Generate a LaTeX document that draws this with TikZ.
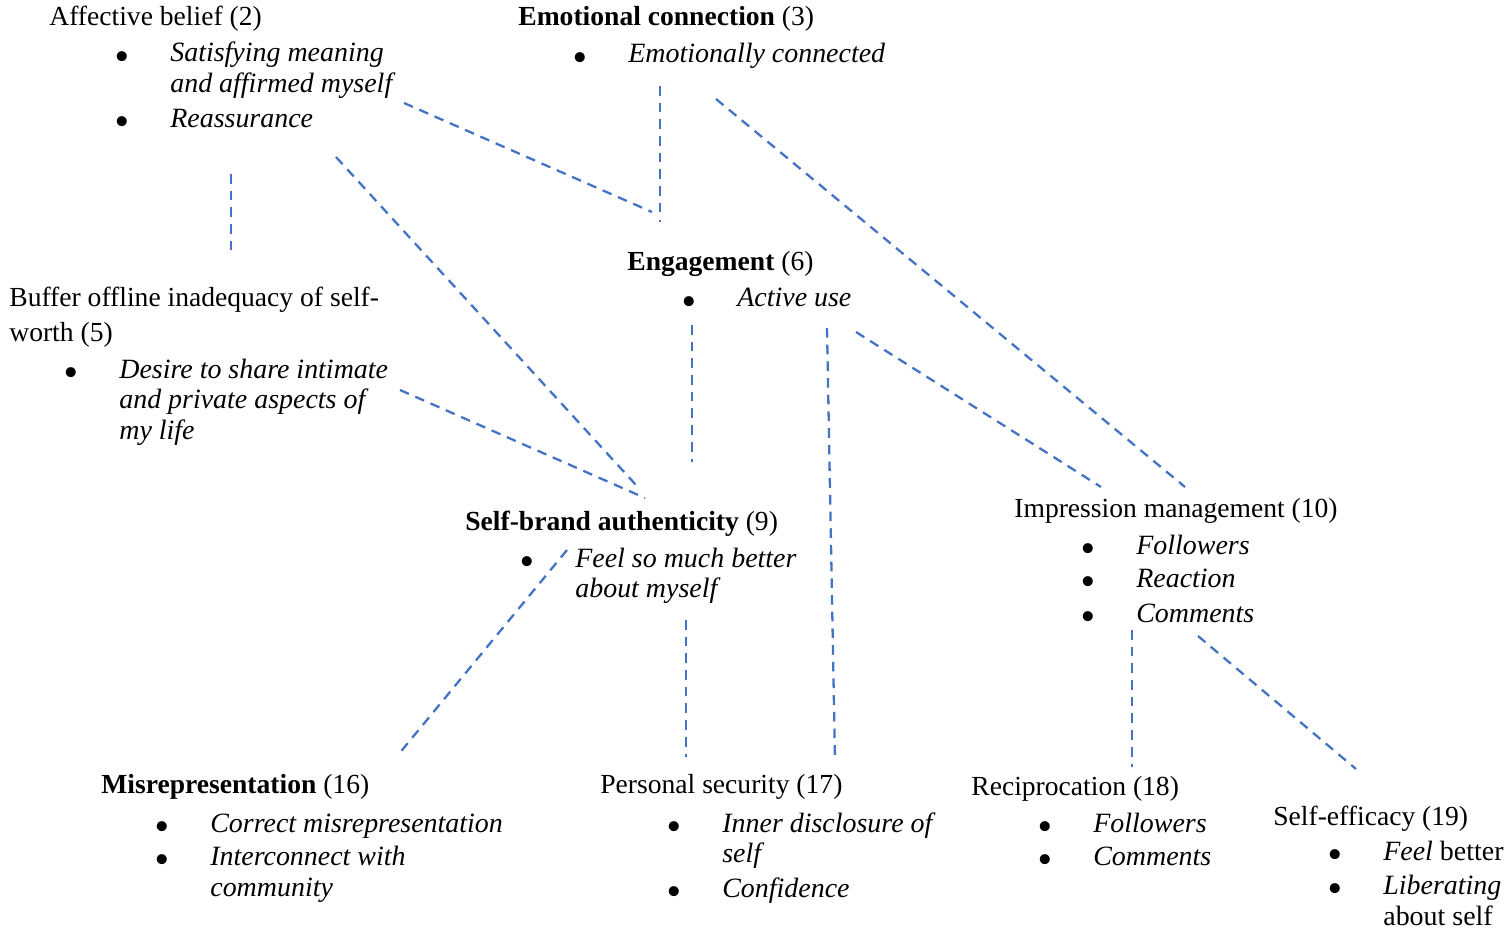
\documentclass[tikz,border=0pt]{standalone}
\usepackage{fontspec}
\setmainfont{Liberation Serif}
\usetikzlibrary{positioning}
\definecolor{linkblue}{RGB}{68,114,196}
\newcommand{\bul}{\llap{\raisebox{-4.6pt}[0pt][0pt]{\scalebox{1.5}{\textbullet}}\hspace{0.83cm}}}

\begin{document}
\begin{tikzpicture}[
      x=0.02cm, y=-0.02cm,
      theme/.style={anchor=base west, inner sep=0pt,
                    font=\fontsize{15.7}{17.64}\selectfont},
      items/.style={anchor=base west, inner sep=0pt,
                    font=\fontsize{15.9}{17.64}\selectfont\itshape},
      link/.style={draw=linkblue, line width=1.3pt, dash pattern=on 5.5pt off 4pt}
    ]
      \useasboundingbox (0,0) rectangle (1511,932);

      % Top row
      \node[theme] (aff) at (49,26) {Affective belief (2)};
      \node[items] (aff-l) at (170,62) {\begin{tabular}[t]{@{}l@{}}
          \bul Satisfying meaning\\ and affirmed myself\\[2pt] \bul Reassurance\end{tabular}};
      \node[theme] (emo) at (518,26) {\textbf{Emotional connection} (3)};
      \node[items] (emo-l) at (628,63) {\bul Emotionally connected};

      % Middle rows
      \node[theme] (buf) at (9,307) {\begin{tabular}[t]{@{}l@{}}
          Buffer offline inadequacy of self-\\[2pt] worth (5)\end{tabular}};
      \node[items] (buf-l) at (119,378) {\begin{tabular}[t]{@{}l@{}}
          \bul Desire to share intimate\\ and private aspects of\\ my life\end{tabular}};
      \node[theme] (eng) at (627,271) {\textbf{Engagement} (6)};
      \node[items] (eng-l) at (737,307) {\bul Active use};
      \node[theme] (sba) at (465,530) {\textbf{Self-brand authenticity} (9)};
      \node[items] (sba-l) at (575,567) {\begin{tabular}[t]{@{}l@{}}
          \bul Feel so much better\\ about myself\end{tabular}};
      \node[theme] (imp) at (1014,517) {Impression management (10)};
      \node[items] (imp-l) at (1136,554) {\begin{tabular}[t]{@{}l@{}}
          \bul Followers\\[1.5pt] \bul Reaction\\[2pt] \bul Comments\end{tabular}};

      % Bottom row
      \node[theme] (mis) at (101,793) {\textbf{Misrepresentation} (16)};
      \node[items] (mis-l) at (210,832) {\begin{tabular}[t]{@{}l@{}}
          \bul Correct misrepresentation\\[1.5pt] \bul Interconnect with\\ community\end{tabular}};
      \node[theme] (sec) at (600,793) {Personal security (17)};
      \node[items] (sec-l) at (722,832) {\begin{tabular}[t]{@{}l@{}}
          \bul Inner disclosure of\\ self\\[2pt] \bul Confidence\end{tabular}};
      \node[theme] (rec) at (971,795) {Reciprocation (18)};
      \node[items] (rec-l) at (1093,832) {\begin{tabular}[t]{@{}l@{}}
          \bul Followers\\[1.5pt] \bul Comments\end{tabular}};
      \node[theme] (eff) at (1273,825) {Self-efficacy (19)};
      \node[items] (eff-l) at (1383,860) {\begin{tabular}[t]{@{}l@{}}
          \bul Feel {\upshape better}\\[2pt] \bul Liberating\\ \upshape about self\end{tabular}};

      % Line ends
      \coordinate (aff-s) at (231,174);   \coordinate (buf-n) at (231,250);
      \coordinate (aff-e) at (404,103);   \coordinate (eng-nw) at (652,212);
      \coordinate (emo-s) at (660,86);    \coordinate (eng-n) at (660,222);
      \coordinate (aff-se) at (336,157);  \coordinate (sba-n1) at (636,485);
      \coordinate (emo-se) at (716,99);   \coordinate (imp-n2) at (1185,487);
      \coordinate (buf-e) at (400,390);   \coordinate (sba-n2) at (645,498);
      \coordinate (eng-s) at (692,325);   \coordinate (sba-n3) at (692,462);
      \coordinate (eng-s2) at (827,328);  \coordinate (sec-n2) at (835,760);
      \coordinate (eng-se) at (856,332);  \coordinate (imp-n1) at (1101,487);
      \coordinate (sba-sw) at (567,550);  \coordinate (mis-n) at (398,755);
      \coordinate (sba-s) at (686,620);   \coordinate (sec-n1) at (686,757);
      \coordinate (imp-s) at (1132,630);  \coordinate (rec-n) at (1132,767);
      \coordinate (imp-se) at (1198,636); \coordinate (eff-n) at (1356,769);

      % Links
      \draw[link] (aff-s) -- (buf-n);
      \draw[link] (aff-e) -- (eng-nw);
      \draw[link] (emo-s) -- (eng-n);
      \draw[link] (aff-se) -- (sba-n1);
      \draw[link] (emo-se) -- (imp-n2);
      \draw[link] (buf-e) -- (sba-n2);
      \draw[link] (eng-s) -- (sba-n3);
      \draw[link] (eng-s2) -- (sec-n2);
      \draw[link] (eng-se) -- (imp-n1);
      \draw[link] (sba-sw) -- (mis-n);
      \draw[link] (sba-s) -- (sec-n1);
      \draw[link] (imp-s) -- (rec-n);
      \draw[link] (imp-se) -- (eff-n);

    \end{tikzpicture}
\end{document}
